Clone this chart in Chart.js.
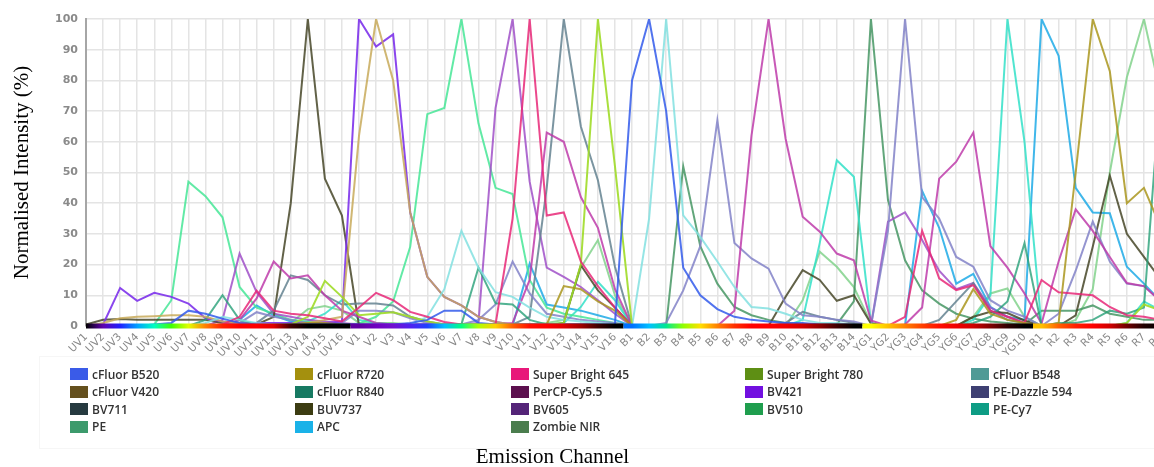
<!DOCTYPE html>
<html><head><meta charset="utf-8">
<script src="https://cdn.jsdelivr.net/npm/chart.js@4.4.1/dist/chart.umd.min.js"></script>
<style>
html,body{margin:0;padding:0;background:#fff;width:1154px;height:467px;overflow:hidden;}
#wrap{position:absolute;left:0;top:0;width:1200px;height:370px;}
#legendBox{position:absolute;left:39px;top:356px;width:1150px;height:91px;border:1px solid #f6f6f6;border-right:none;}
.item{position:absolute;height:14px;display:flex;align-items:center;font-family:'Open Sans',sans-serif;font-weight:600;font-size:12px;color:#333;white-space:nowrap;}
.sw{width:18px;height:12px;margin-right:4px;box-sizing:border-box;}
#xtitle{position:absolute;left:0;width:1105px;text-align:center;top:446px;line-height:21px;font-family:'Liberation Serif','Times New Roman',serif;font-size:21px;color:#000;}
</style></head>
<body>
<div id="wrap"><canvas id="c" width="1200" height="370"></canvas></div>
<div id="legendBox"></div>
<div id="legend"></div>
<div id="xtitle">Emission Channel</div>
<script>
// ---- tick labels (emission channels) ----
const channels = [
 'UV1','UV2','UV3','UV4','UV5','UV6','UV7','UV8','UV9','UV10','UV11','UV12','UV13','UV14','UV15','UV16',
 'V1','V2','V3','V4','V5','V6','V7','V8','V9','V10','V11','V12','V13','V14','V15','V16',
 'B1','B2','B3','B4','B5','B6','B7','B8','B9','B10','B11','B12','B13','B14',
 'YG1','YG2','YG3','YG4','YG5','YG6','YG7','YG8','YG9','YG10',
 'R1','R2','R3','R4','R5','R6','R7','R8'];
const laserCounts = [16,16,14,10,8];

// ---- series values (normalised intensity %), UV | V | B | YG | R ----
const cfB520 = [0,0,0,0,0.5,1,5,4,2.4,1,0.5,0.5,0.5,0.5,0.5,0.5,
 0.5,0.5,0.5,1,2,5,5,1,0.5,0.5,0.5,0.5,0.5,0.5,0.5,0.5,
 80,100,70,19,10,5.5,3,2,1.5,1,1,0.5,0.5,0.5,
 0,0,0,0,0,0,0,0,0,0, 0,0,0,0,0,0,0,0];
const cfR720 = [0,0,0,0,0,0,0,0,0,0,0,0,0.5,1,1,0.5,
 0,0,0,0,0,0,0,0,0,0,0,0.5,13,12,8,5,
 0,0,0,0,0,0,0,0,0,0,0.5,0.5,0.5,0.5,
 0,0,0,0,0,2,12,4,2,1, 0,1,50,100,83,40,45,32];
const sb645 = [0,0,0,0,0,0,0,0,0.5,3,11.5,5,4,3.5,2.5,1.5,
 6,10.8,8.4,4.6,3,1.3,0.5,0,0.5,35,100,36,37,21,13,6,
 0,0,0,0,0,0,0,0,0,0,0,0,0,0,
 0,0,3,31,15.5,11.7,13.3,5,3,1, 15,11,10.5,10,6.2,3.5,3,2];
const sb780 = [0,0,0,0,0,0,0,0,0,0,0,0,0.5,3,14.7,9.5,
 3.5,4,4.5,3,1.5,0.5,0.5,0.5,0.5,0.5,0.5,0.5,1,20,100,52,
 0,0,0,0,0,0,0,0,0,0,0,0,0,0,
 0,0,0,0,0,0,0,0,0,0, 0,0,0,0,0,1,7,5];
const cfB548 = [0,0,0,0,0,0,0,1,3,2,1,0.5,0.5,0.5,0.5,0.5,
 0,0,0,0.5,3,12,31,19,11,9.5,6,3,2,1.5,1,0.5,
 0,35,100,36,29,21,12.7,6.2,5.7,4,2,1,1,0.5,
 0,0,0,0,0,0,0,0,0,0, 0,0,0,0,0,0,0,0];
const cfV420 = [0,1,2.5,3,3.2,3.5,3.5,3,1.5,1,0.5,0.5,0.5,1,2,3,
 62,100,80,37,16,9.5,6.7,3,1.3,0.5,0.5,0.5,0.5,0.5,0.5,0.5,
 0,0,0,0,0,0,0,0,0,0,0,0,0,0,
 0,0,0,0,0,0,0,0,0,0, 0,0,0,0,0,0,0,0];
const cfR840 = [0,0,0,0,0,0,0,2,10,2,0.5,0.5,0.5,0.5,0.5,0.5,
 0,0,0,0,0,0,0.5,19,7.4,7,2,0.5,0.5,0.5,0.5,0.5,
 0,0,0,0,0,0,0,0,0,0,0,0,0,0,
 0,0,0,0,0,0,1,3,8,27, 0,1,1,2,5,4,6,80];
const percp = [0,0,0,0,0,0,0,0,0,2,9,21,15.5,16.5,10,5,
 3,1,0.5,0.5,0.5,0.5,0.5,0.5,0.5,1,15,63,60,42,32,12,
 0,0,0,0,0,0,5,62,100,61,35.6,30.7,23.6,21.4,
 1.8,0,0.5,6,48,53.5,63,26,19,10.6, 0.8,21,38,31,22.5,14,13,8];
const bv421 = [0,0.5,12.4,8.2,10.8,9.5,7.3,2.5,1.5,1,1,1,1,1,1,1.5,
 100,91,95,37,16,9.5,6.7,3,1.3,0.5,0.5,0.5,0.5,0.5,0.5,0.5,
 0,0,0,0,0,0,0,0,0,0,0,0,0,0,
 0,0,0,0,0,0,0,0,0,0, 0,0,0,0,0,0,0,0];
const peDazzle = [0,0,0,0,0,0,0,0,0.5,1,4.5,3,2,1,1,1,
 5,5,4.5,2.5,1,0.5,0.5,2,7,21,10.6,4,3,2,1.5,1,
 0,0,1,11.6,26,67,27,22,18.7,7.3,3.5,3,2,1.5,
 0,31,100,42,35,22.5,19.3,8.4,5,3, 0,4,18,34,21,13.8,13,8];
const bv711 = [0,0,0,0,0,0,0,0,0.5,1,1,5,16.5,15,10,7,
 7.3,7.3,6.7,3,1.5,0.5,0.5,0.5,0.5,0.5,3,45,100,65,47.5,19.3,
 0,0,0,0,0,0,0,0,0,1,4.6,3,2,1,
 0,0,0,0,2,8,14,5,2,1, 0,0,0,0,0,0,0,0];
const buv737 = [0.5,2,2.3,2,2,2,2,2,1,0.5,0.5,3,40,100,48,36,
 0,0,0,0,0,0,0,0,0,0,0,0,1,19.8,11.6,6,
 0,0,0,0,0,0,0,0,0,9.5,18.2,15,8.2,10,
 0.8,0,0,0,0,0,3,4.6,4.2,1.8, 0,0,3.5,25.8,49,30,22.5,15];
const bv605 = [0,0,0,0,0,0,0,0,2,23.6,11,4,3,2,1.5,1,
 0.5,0.5,0.5,0.5,0.5,0.5,0.5,1,71,100,47,19,16,12.7,8.4,4,
 0,0,0,0,0,0,0,0,0,0,0,0,0,0,
 0,34,37,28,18,12,14,6,3,1, 0,0,0,0,0,0,0,0];
const bv510 = [0,0,0,0,0.5,8.4,47,42.3,35.4,12.7,6,4,2,1.5,1,0.5,
 0.8,3,8,25.8,69,71,100,66,45,43,15,6,4,3,2,1,
 0,0,0,0,0,0,0,0,0,0,0,0,0,0,
 0,0,0,0,0,0,0,0,0,0, 0,0,0,0,0,0,0,0];
const peCy7 = [0,0,0,0,0,0,0,0,0,0,0,0,0.5,1.5,4,8.4,
 2,1,0.5,0.5,0.5,0.5,0.5,0.5,0.5,0.5,0.5,0.5,1,6.2,14.4,8.4,
 0,0,0,0,0,0,0,0,0,0,2,27,54,48.6,
 1,0,0,0,0,0,2,10,100,60, 0,0,0,0,0,1,8,5];
const pe = [0,0,0,0,0,0,0,0,0,0,0,0,0,0,0,0,
 0,0,0,0,0,0,0,0,0,0,0,0,0,0,0,0,
 0,0,0,52,26,13.8,6.2,3.5,2,1,0.5,0.5,0.5,8,
 100,41,21.4,11.6,7.3,4,2.4,1.5,1,0.5, 5,5,5,6.7,4,3,2,2];
const apc = [0,0,0,0,0,0,0,0,0,2,6.7,3.5,1.5,1,1,0.5,
 0,0,0,0,0,0,0,0,0,0,20.3,7,6,5,3.5,2,
 0,0,0,0,0,0,0,0,0,0,0,0,0,0,
 0,0,0,44,32,13.8,17,6.2,3,2, 100,88,45,37,36.7,19.3,13.8,8];
const zombieNIR = [0,0,0,0,0,0,0,0,0,0,0,0,1,5.5,6.5,5,
 1,1,1,0.5,0.5,0.5,0.5,0.5,0.5,0.5,0.5,1,2,19,28,10,
 0,0,0,0,0,0,0,0,0,0,8.4,24.2,19.3,12.7,
 1,0,0,0,0,0,3,10.6,12.2,3, 0,0,2,12,50,81,100,75];

const seriesNames = ['cFluor B520','cFluor R720','Super Bright 645','Super Bright 780','cFluor B548',
 'cFluor V420','cFluor R840','PerCP-Cy5.5','BV421','PE-Dazzle 594',
 'BV711','BUV737','BV605','BV510','PE-Cy7',
 'PE','APC','Zombie NIR'];
const seriesValues = [cfB520,cfR720,sb645,sb780,cfB548,cfV420,cfR840,percp,bv421,peDazzle,
 bv711,buv737,bv605,bv510,peCy7,pe,apc,zombieNIR];

// ---- styles ----
const lineColors = ['rgba(50,90,235,0.85)','rgba(170,150,30,0.85)','rgba(232,40,120,0.85)','rgba(160,220,40,0.9)','rgba(130,225,225,0.85)',
 'rgba(200,170,90,0.85)','rgba(40,160,120,0.8)','rgba(190,60,170,0.85)','rgba(125,50,235,0.9)','rgba(130,130,200,0.85)',
 'rgba(100,130,145,0.85)','rgba(70,70,40,0.85)','rgba(160,80,200,0.85)','rgba(70,230,150,0.85)','rgba(50,225,200,0.85)',
 'rgba(70,150,100,0.85)','rgba(30,170,230,0.85)','rgba(130,210,140,0.85)'];
const legendColors = ['#3a5be8','#a4900e','#e8187a','#5e8f14','#4f9a96',
 '#64501e','#177a62','#5c0f4e','#7210e0','#3e3f72',
 '#263a40','#3c3c12','#542478','#1f9e4e','#0d9c84',
 '#3c9a6c','#1ab2e8','#4b7d4e'];
const barColors = [
 '#000000','#6000b0','#2020ff','#00a0ff','#00ffc0','#40ff00','#e0ff00','#ff8000','#ff2000','#ff0000','#ff0000','#e00000','#400000','#000000','#000000','#000000',
 '#6000a0','#7000c0','#7010d0','#5020f0','#2040ff','#00c0ff','#00ff80','#b0ff00','#ffd000','#ff6000','#ff1000','#ff0000','#e00000','#a00000','#400000','#000000',
 '#0070ff','#00c0ff','#00e890','#90ff00','#ffe000','#ff8000','#ff3000','#ff0000','#ff0000','#f00000','#d00000','#900000','#400000','#000000',
 '#ffff00','#ffc000','#ff8000','#ff4000','#ff1000','#f00000','#d00000','#800000','#300000','#000000',
 '#ffc000','#ff6000','#ff2000','#ff0000','#d00000','#700000','#200000','#000000'];

const barPlugin = {
  id:'laserBar',
  afterDatasetsDraw(chart){
    const {ctx, scales:{x, y}} = chart;
    const y0 = y.getPixelForValue(0);
    let start = 0;
    laserCounts.forEach(n => {
      const end = start + n - 1;
      const xs = [];
      for (let i = start; i <= end; i++) xs.push(x.getPixelForValue(i));
      const left = start === 0 ? xs[0] : (x.getPixelForValue(start - 1) + xs[0]) / 2;
      const right = end === channels.length - 1 ? xs[xs.length - 1] : (xs[xs.length - 1] + x.getPixelForValue(end + 1)) / 2;
      const g = ctx.createLinearGradient(left, 0, right, 0);
      for (let i = start; i <= end; i++) {
        g.addColorStop(Math.min(1, Math.max(0, (xs[i - start] - left) / (right - left))), barColors[i]);
      }
      ctx.save();
      ctx.fillStyle = g;
      ctx.fillRect(left, y0 - 2.5, right - left, 5);
      ctx.restore();
      start = end + 1;
    });
  }
};

const chart = new Chart(document.getElementById('c'), {
  type: 'line',
  data: {
    labels: channels,
    datasets: seriesNames.map((n, i) => ({
      label: n, data: seriesValues[i], borderColor: lineColors[i], backgroundColor: lineColors[i],
      borderWidth: 2, pointRadius: 0, pointHoverRadius: 0, tension: 0, fill: false
    }))
  },
  options: {
    responsive: false, animation: false,
    layout: { padding: { top: 19, right: 39, bottom: 4, left: 0 } },
    plugins: { legend: { display: false }, tooltip: { enabled: false } },
    scales: {
      x: {
        grid: { color: '#e4e4e4', lineWidth: 1.5, drawTicks: false },
        border: { display: false },
        ticks: { autoSkip: false, maxRotation: 45, minRotation: 45, padding: 5, color: '#888888',
                 font: { family: 'DejaVu Sans', size: 10.5 } },
        afterFit: (s) => { s.height = 40; }
      },
      y: {
        min: 0, max: 100,
        ticks: { stepSize: 10, padding: 8, color: '#8a8a8a', font: { family: 'DejaVu Sans', size: 11, weight: 'bold' } },
        grid: { color: '#e4e4e4', lineWidth: 1.5, drawTicks: false },
        border: { display: true, color: '#a6a6a6', width: 2 },
        title: { display: true, text: 'Normalised Intensity (%)', color: '#000',
                 font: { family: 'Liberation Serif', size: 21 }, padding: { top: 10, bottom: 0 } },
        afterFit: (s) => { s.width = 86; }
      }
    }
  },
  plugins: [barPlugin]
});

// ---- legend grid (built from datasets) ----
const colX = [70, 295, 511, 745, 971];
const rowY = [374, 391.5, 409, 426.5];
const legendEl = document.getElementById('legend');
chart.data.datasets.forEach((ds, i) => {
  const item = document.createElement('div');
  item.className = 'item';
  item.style.left = colX[i % 5] + 'px';
  item.style.top = (rowY[Math.floor(i / 5)] - 7) + 'px';
  const sw = document.createElement('span');
  sw.className = 'sw';
  sw.style.background = legendColors[i];
  const t = document.createElement('span');
  t.textContent = ds.label;
  item.appendChild(sw); item.appendChild(t);
  legendEl.appendChild(item);
});
</script>
</body></html>
